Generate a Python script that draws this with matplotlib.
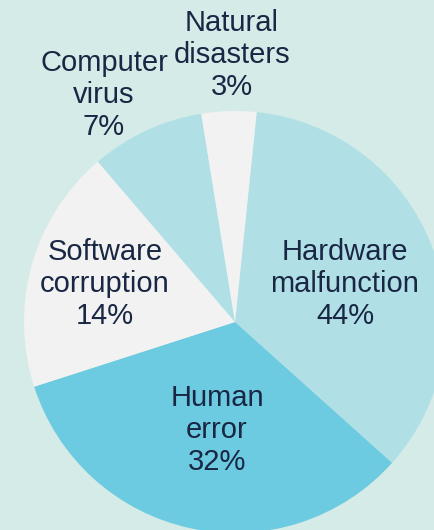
import matplotlib
matplotlib.use("Agg")
import matplotlib.pyplot as plt

# ---- data ----
categories = ["Hardware\nmalfunction", "Human\nerror", "Software\ncorruption",
              "Computer\nvirus", "Natural\ndisasters"]
pct_labels = ["44%", "32%", "14%", "7%", "3%"]
# slice shares as drawn in the picture (angular share, %)
slice_shares = [35.0, 33.4, 18.7, 8.7, 4.2]

# ---- style / layout ----
colors = ["#b0e0e6", "#6ccbe0", "#f2f2f2", "#b0e0e6", "#f2f2f2"]
bg = "#d4ebe7"
text_color = "#1a2744"
W, H = 435, 530
center = (235, H - 322)
radius = 211
label_xy = [(345, 284), (217, 430), (105, 284), (104, 95), (232, 55)]

fig = plt.figure(figsize=(W / 100, H / 100), dpi=100, facecolor=bg)
ax = fig.add_axes([0, 0, 1, 1])
ax.set_facecolor(bg)
ax.pie(slice_shares, colors=colors, startangle=84.1, counterclock=False,
       center=center, radius=radius, wedgeprops=dict(linewidth=0))
ax.set_xlim(0, W)
ax.set_ylim(0, H)
ax.set_aspect("equal")
ax.axis("off")

for cat, pct, (x, y) in zip(categories, pct_labels, label_xy):
    ax.text(x, H - y, f"{cat}\n{pct}", ha="center", va="center",
            fontsize=21, family=["Liberation Sans", "DejaVu Sans"],
            color=text_color, linespacing=1.18)

fig.savefig("out.png", dpi=100, facecolor=bg)
